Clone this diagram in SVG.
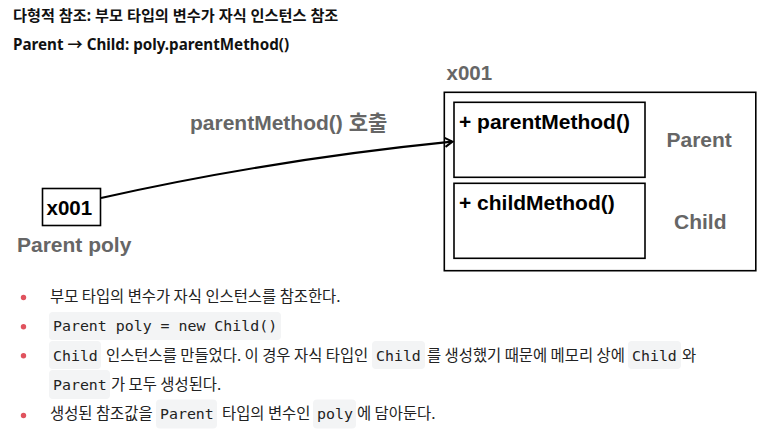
<svg xmlns="http://www.w3.org/2000/svg" width="769" height="439" viewBox="0 0 769 439">
<defs>
<style>
.hd{font-family:"Noto Sans","Noto Sans CJK KR",sans-serif;font-weight:700;font-size:15.2px;fill:#111}
.dg{font-family:"Liberation Sans","Noto Sans CJK KR",sans-serif;font-weight:700;font-size:21px}
.blk{fill:#000}
.gry{fill:#666}
.box{fill:#fff;stroke:#000;stroke-width:1.6}
.conn{fill:none;stroke:#000;stroke-width:2.2}
.kr{font-family:"Noto Sans CJK KR",sans-serif;font-size:15.4px;fill:#222}
.code{font-family:"DejaVu Sans Mono",monospace;font-size:14.9px;fill:#222}
.cbg{fill:#f3f4f5}
.dot{fill:#e0535e}
</style>
<marker id="arr" markerWidth="12" markerHeight="12" refX="9" refY="6" orient="auto" markerUnits="userSpaceOnUse">
<path d="M2,1.5 L9.5,6 L2,10.5" fill="none" stroke="#000" stroke-width="2"/>
</marker>
</defs>
<rect width="769" height="439" fill="#fff"/>

<g id="header">
<text class="hd" x="13" y="21">다형적 참조: 부모 타입의 변수가 자식 인스턴스 참조</text>
<text class="hd" x="13" y="50">Parent → Child: poly.parentMethod()</text>
</g>

<g id="poly">
<rect class="box" x="42.5" y="188.5" width="58" height="37"/>
<text class="dg blk" x="46.5" y="215" style="font-size:20.5px">x001</text>
<text class="dg gry" x="17" y="252">Parent poly</text>
</g>

<g id="instance">
<text class="dg gry" x="446.5" y="80" style="font-size:20.5px">x001</text>
<rect class="box" x="444.3" y="92.3" width="311.5" height="178.4"/>
</g>

<g id="parent">
<rect class="box" x="454" y="102.3" width="191" height="75"/>
<text class="dg blk" x="459" y="129">+ parentMethod()</text>
<text class="dg gry" x="666.5" y="147.3">Parent</text>
</g>

<g id="child">
<rect class="box" x="454" y="183.3" width="191" height="75"/>
<text class="dg blk" x="459" y="209.5">+ childMethod()</text>
<text class="dg gry" x="674" y="229">Child</text>
</g>

<g id="connectors">
<path class="conn" d="M101,198 Q270,160 452,141.7" marker-end="url(#arr)"/>
<text class="dg gry" x="190" y="130">parentMethod() 호출</text>
</g>

<g id="notes">
<circle class="dot" cx="23.5" cy="297.5" r="2.7"/>
<circle class="dot" cx="23.5" cy="326.7" r="2.7"/>
<circle class="dot" cx="23.5" cy="355.8" r="2.7"/>
<circle class="dot" cx="23.5" cy="415.5" r="2.7"/>

<text class="kr" x="50" y="302">부모 타입의 변수가 자식 인스턴스를 참조한다.</text>

<rect class="cbg" x="49" y="312" width="232" height="28" rx="4"/>
<text class="code" x="53" y="331">Parent poly = new Child()</text>

<rect class="cbg" x="49" y="341" width="52" height="28" rx="4"/>
<text class="code" x="53" y="360.7">Child</text>
<text class="kr" x="106" y="360.7">인스턴스를 만들었다. 이 경우 자식 타입인</text>
<rect class="cbg" x="372" y="341" width="53" height="28" rx="4"/>
<text class="code" x="376" y="360.7">Child</text>
<text class="kr" x="427" y="360.7">를 생성했기 때문에 메모리 상에</text>
<rect class="cbg" x="628" y="341" width="53" height="28" rx="4"/>
<text class="code" x="632" y="360.7">Child</text>
<text class="kr" x="682" y="360.7">와</text>

<rect class="cbg" x="49" y="370" width="61" height="29" rx="4"/>
<text class="code" x="53" y="390">Parent</text>
<text class="kr" x="111" y="390">가 모두 생성된다.</text>

<text class="kr" x="50" y="419.3">생성된 참조값을</text>
<rect class="cbg" x="156" y="399.5" width="61" height="29" rx="4"/>
<text class="code" x="160" y="419.3">Parent</text>
<text class="kr" x="222" y="419.3">타입의 변수인</text>
<rect class="cbg" x="313" y="399.5" width="43" height="29" rx="4"/>
<text class="code" x="317" y="419.3">poly</text>
<text class="kr" x="357" y="419.3">에 담아둔다.</text>
</g>
</svg>
